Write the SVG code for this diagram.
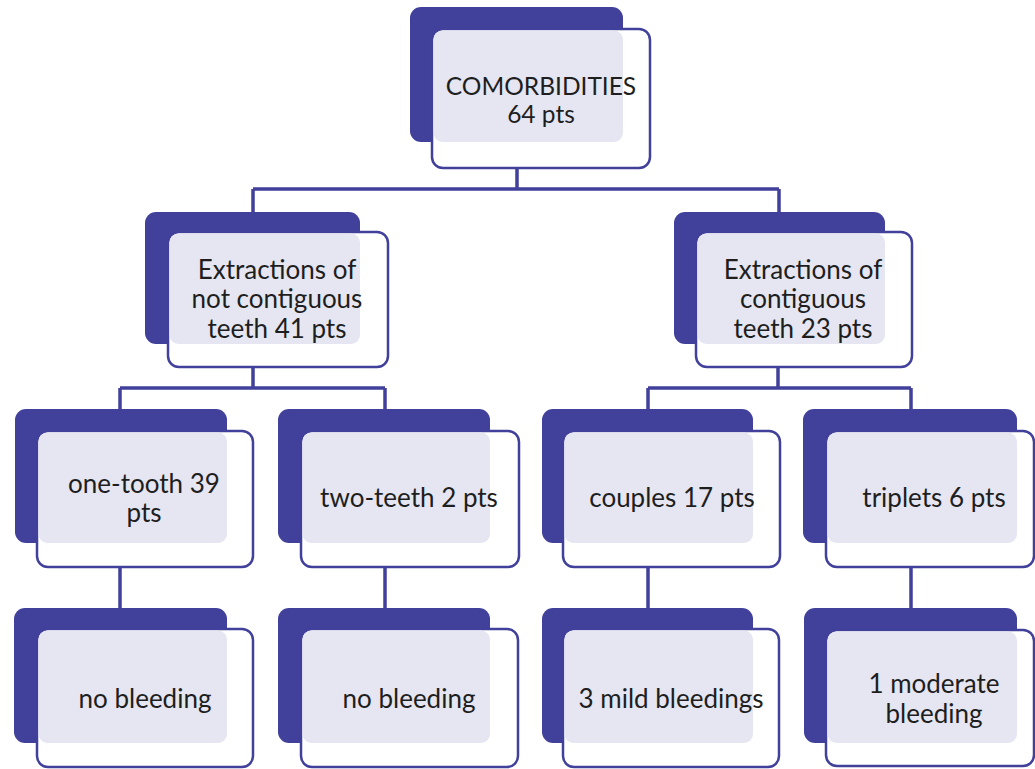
<svg xmlns="http://www.w3.org/2000/svg" width="1035" height="769" viewBox="0 0 1035 769">
<style>
.back{fill:#41409b}
.front{fill:#ffffff;stroke:#41409b;stroke-width:2.5}
.lav{fill:#e5e6f2}
.conn{fill:none;stroke:#41409b;stroke-width:3.5}
.faint{fill:none;stroke:#c9cae2;stroke-width:1.5}
text{font-family:Lato,"Liberation Sans",sans-serif;font-size:26px;fill:#1e1e1e;text-anchor:middle}
.top{font-size:24.5px}
</style>
<rect width="1035" height="769" fill="#ffffff"/>
<g id="connectors">
<path class="conn" d="M517,168V189M253,189H779M253,189V212M779,189V212"/>
<path class="conn" d="M253,367V388M120,388H385M120,388V409M385,388V409"/>
<path class="conn" d="M778,367V388M648,388H911M648,388V409M911,388V409"/>
<path class="conn" d="M120,567V608M385,567V608M648,567V608M911,567V608"/>
<path class="faint" d="M517,142V167M253,344V366M778,344V366M120,543V566M385,543V566M648,543V566M911,543V566"/>
</g>
<g id="n-root">
<rect class="back" x="410" y="7" width="213" height="135" rx="11"/>
<rect class="front" x="432" y="29" width="218" height="139" rx="11"/>
<rect class="lav" x="433.5" y="30.5" width="189.5" height="111.5" rx="9"/>
<text class="top" x="541" y="95">COMORBIDITIES</text>
<text class="top" x="541" y="123">64 pts</text>
</g>
<g id="n-notcontig">
<rect class="back" x="145" y="212" width="215" height="132" rx="11"/>
<rect class="front" x="168" y="232" width="220" height="135" rx="11"/>
<rect class="lav" x="169.5" y="233.5" width="190.5" height="110.5" rx="9"/>
<text x="277" y="279">Extractions of</text>
<text x="277" y="308">not contiguous</text>
<text x="277" y="338">teeth 41 pts</text>
</g>
<g id="n-contig">
<rect class="back" x="674" y="212" width="211" height="132" rx="11"/>
<rect class="front" x="696" y="232" width="216" height="135" rx="11"/>
<rect class="lav" x="697.5" y="233.5" width="187.5" height="110.5" rx="9"/>
<text x="803" y="279">Extractions of</text>
<text x="803" y="308">contiguous</text>
<text x="803" y="338">teeth 23 pts</text>
</g>
<g id="n-onetooth">
<rect class="back" x="15" y="409" width="212" height="134" rx="11"/>
<rect class="front" x="37" y="431" width="216" height="136" rx="11"/>
<rect class="lav" x="38.5" y="432.5" width="188.5" height="110.5" rx="9"/>
<text x="144" y="493">one-tooth 39</text>
<text x="144" y="522">pts</text>
</g>
<g id="n-twoteeth">
<rect class="back" x="278" y="409" width="212" height="134" rx="11"/>
<rect class="front" x="301" y="431" width="218" height="136" rx="11"/>
<rect class="lav" x="302.5" y="432.5" width="187.5" height="110.5" rx="9"/>
<text x="409" y="507">two-teeth 2 pts</text>
</g>
<g id="n-couples">
<rect class="back" x="542" y="409" width="211" height="134" rx="11"/>
<rect class="front" x="563" y="431" width="217" height="136" rx="11"/>
<rect class="lav" x="564.5" y="432.5" width="188.5" height="110.5" rx="9"/>
<text x="672" y="507">couples 17 pts</text>
</g>
<g id="n-triplets">
<rect class="back" x="803" y="409" width="214" height="134" rx="11"/>
<rect class="front" x="826" y="431" width="208" height="136" rx="11"/>
<rect class="lav" x="827.5" y="432.5" width="189.5" height="110.5" rx="9"/>
<text x="934" y="507">triplets 6 pts</text>
</g>
<g id="n-nobleed1">
<rect class="back" x="14" y="608" width="213" height="135" rx="11"/>
<rect class="front" x="37" y="629" width="216" height="138" rx="11"/>
<rect class="lav" x="38.5" y="630.5" width="188.5" height="112.5" rx="9"/>
<text x="145" y="708">no bleeding</text>
</g>
<g id="n-nobleed2">
<rect class="back" x="278" y="608" width="212" height="135" rx="11"/>
<rect class="front" x="301" y="629" width="217" height="138" rx="11"/>
<rect class="lav" x="302.5" y="630.5" width="187.5" height="112.5" rx="9"/>
<text x="409" y="708">no bleeding</text>
</g>
<g id="n-mild">
<rect class="back" x="542" y="608" width="211" height="135" rx="11"/>
<rect class="front" x="563" y="629" width="216" height="138" rx="11"/>
<rect class="lav" x="564.5" y="630.5" width="188.5" height="112.5" rx="9"/>
<text x="671" y="708">3 mild bleedings</text>
</g>
<g id="n-moderate">
<rect class="back" x="804" y="608" width="213" height="135" rx="11"/>
<rect class="front" x="826" y="630" width="208" height="136" rx="11"/>
<rect class="lav" x="827.5" y="631.5" width="189.5" height="111.5" rx="9"/>
<text x="934" y="693">1 moderate</text>
<text x="934" y="723">bleeding</text>
</g>
</svg>
